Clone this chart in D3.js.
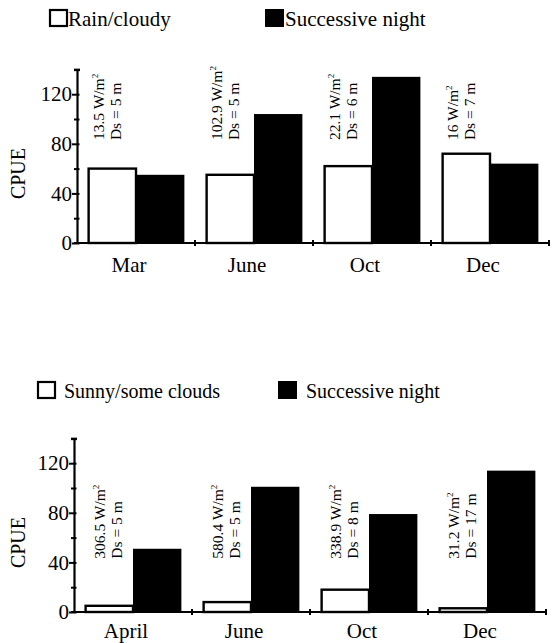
<!DOCTYPE html>
<html>
<head>
<meta charset="utf-8">
<script src="https://cdn.jsdelivr.net/npm/d3@7"></script>
<style>
    body { margin: 0; background: #fff; }
    svg { display: block; }
</style>
</head>
<body>
<div id="chart"></div>
<script>
// top panel: rain/cloudy vs successive night
var topMonths = ["Mar", "June", "Oct", "Dec"];
var topRain = [60, 55, 62, 72];
var topNight = [55, 104, 134, 64];
var topIrradiance = ["13.5", "102.9", "22.1", "16"];
var topDepth = [5, 5, 6, 7];

// bottom panel: sunny/some clouds vs successive night
var bottomMonths = ["April", "June", "Oct", "Dec"];
var bottomSunny = [5, 8, 18, 3];
var bottomNight = [51, 101, 79, 114];
var bottomIrradiance = ["306.5", "580.4", "338.9", "31.2"];
var bottomDepth = [5, 5, 8, 17];

var yMax = 140;
var yMinorTicks = [0, 20, 40, 60, 80, 100, 120, 140];
var yLabelTicks = [0, 40, 80, 120];

var serif = "'Liberation Serif', 'Times New Roman', Times, 'DejaVu Serif', serif";

var svg = d3.select("#chart").append("svg")
    .attr("width", 554)
    .attr("height", 643)
    .attr("font-family", serif)
    .style("font-family", serif);

var drawPanel = function(cfg) {
    var g = svg.append("g");

    var x = d3.scaleBand()
        .domain(cfg.months)
        .range([cfg.left, cfg.right])
        .paddingInner(0.18)
        .paddingOuter(0.09);
    var step = x.step();

    var xSub = d3.scaleBand()
        .domain(["day", "night"])
        .range([0, x.bandwidth()]);

    var y = d3.scaleLinear()
        .domain([0, yMax])
        .range([cfg.zero, cfg.zero - yMax * 1.24]);

    // legend
    var legend = g.append("g");
    legend.append("rect")
        .attr("x", cfg.legend.x1).attr("y", cfg.legend.y - 16)
        .attr("width", 17).attr("height", 16)
        .attr("fill", "#fff").attr("stroke", "#000").attr("stroke-width", 2.2);
    legend.append("text")
        .attr("x", cfg.legend.x1 + cfg.legend.gap).attr("y", cfg.legend.y)
        .style("font-family", serif)
        .style("font-size", cfg.legend.size + "px")
        .text(cfg.legend.label1);
    legend.append("rect")
        .attr("x", cfg.legend.x2).attr("y", cfg.legend.y - 17)
        .attr("width", 19).attr("height", 18)
        .attr("fill", "#000");
    legend.append("text")
        .attr("x", cfg.legend.x2 + cfg.legend.gap + 2).attr("y", cfg.legend.y)
        .style("font-family", serif)
        .style("font-size", cfg.legend.size + "px")
        .text("Successive night");

    // bars
    var groups = g.selectAll("g.month")
        .data(cfg.months)
        .enter()
        .append("g")
        .attr("class", "month")
        .attr("transform", function(d) { return "translate(" + x(d) + ",0)"; });

    groups.append("rect")
        .attr("x", xSub("day") + 1)
        .attr("y", function(d, i) { return y(cfg.day[i]); })
        .attr("width", xSub.bandwidth() - 1)
        .attr("height", function(d, i) { return y(0) - y(cfg.day[i]); })
        .attr("fill", "#fff")
        .attr("stroke", "#000")
        .attr("stroke-width", 2.4);

    groups.append("rect")
        .attr("x", xSub("night"))
        .attr("y", function(d, i) { return y(cfg.night[i]); })
        .attr("width", xSub.bandwidth())
        .attr("height", function(d, i) { return y(0) - y(cfg.night[i]); })
        .attr("fill", "#000");

    // rotated annotations
    cfg.months.forEach(function(m, i) {
        var bx = cfg.left + i * step + cfg.noteOffset;
        var by = y(cfg.noteAt);
        var t = g.append("text")
            .attr("transform", "translate(" + bx + "," + by + ") rotate(-90)")
            .style("font-family", serif)
            .style("font-size", "15.5px");
        t.append("tspan").attr("x", 0).attr("dy", 0).text(cfg.irradiance[i] + " W/m");
        t.append("tspan").attr("dy", -6).style("font-size", "9px").text("2");
        t.append("tspan").attr("x", 0).attr("dy", 23).text("Ds = " + cfg.depth[i] + " m");
    });

    // y axis
    var yAxis = d3.axisLeft(y)
        .tickValues(yMinorTicks)
        .tickSizeInner(3)
        .tickSizeOuter(0)
        .tickFormat(function(d) { return yLabelTicks.indexOf(d) >= 0 ? d : ""; });

    var yAxisContainer = g.append("g")
        .attr("transform", "translate(" + cfg.left + ",0)")
        .call(yAxis)
        .attr("font-family", null);
    yAxisContainer.select(".domain").attr("stroke-width", 2.2);
    yAxisContainer.selectAll(".tick line")
        .attr("x1", function(d) { return d === yMax ? 3 : 2.5; })
        .attr("x2", function(d) {
            if (d === yMax) return -3;
            return yLabelTicks.indexOf(d) >= 0 ? -5 : -3;
        })
        .attr("stroke-width", function(d) { return d === yMax ? 2.5 : 2; });
    yAxisContainer.selectAll(".tick text")
        .attr("x", -5)
        .style("font-family", serif)
        .style("font-size", "21px");

    g.append("text")
        .attr("transform", "translate(" + 25 + "," + y(56) + ") rotate(-90)")
        .attr("text-anchor", "middle")
        .style("font-family", serif)
        .style("font-size", "20px")
        .text("CPUE");

    // x axis
    g.append("line")
        .attr("x1", cfg.left - 3).attr("x2", cfg.right)
        .attr("y1", y(0)).attr("y2", y(0))
        .attr("stroke", "#000").attr("stroke-width", 2.2);
    g.selectAll("line.xtick")
        .data(cfg.months)
        .enter()
        .append("line")
        .attr("class", "xtick")
        .attr("x1", function(d) { return x(d) + x.bandwidth() + step * 0.09; })
        .attr("x2", function(d) { return x(d) + x.bandwidth() + step * 0.09; })
        .attr("y1", y(0) - 3).attr("y2", y(0) + 3)
        .attr("stroke", "#000").attr("stroke-width", 2);

    g.selectAll("text.month-label")
        .data(cfg.months)
        .enter()
        .append("text")
        .attr("class", "month-label")
        .attr("x", function(d) { return x(d) + x.bandwidth() / 2 - 7; })
        .attr("y", y(0) + cfg.labelDy)
        .attr("text-anchor", "middle")
        .style("font-family", serif)
        .style("font-size", "21px")
        .text(function(d) { return d; });
};

drawPanel({
    months: topMonths,
    day: topRain,
    night: topNight,
    irradiance: topIrradiance,
    depth: topDepth,
    left: 77,
    right: 549,
    zero: 243,
    noteOffset: 27,
    noteAt: 83,
    labelDy: 29,
    legend: { x1: 50, x2: 265, y: 26, gap: 18, size: 21, label1: "Rain/cloudy" }
});

drawPanel({
    months: bottomMonths,
    day: bottomSunny,
    night: bottomNight,
    irradiance: bottomIrradiance,
    depth: bottomDepth,
    left: 74,
    right: 546,
    zero: 612,
    noteOffset: 31,
    noteAt: 43,
    labelDy: 26,
    legend: { x1: 38, x2: 278, y: 398, gap: 26, size: 20, label1: "Sunny/some clouds" }
});
</script>
</body>
</html>
